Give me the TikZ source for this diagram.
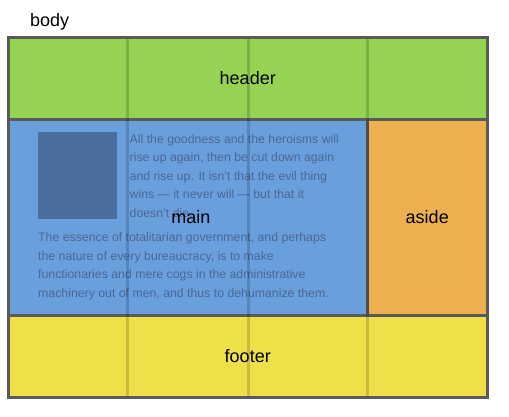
\documentclass[tikz,border=0pt]{standalone}
\usepackage{fontspec}
\setmainfont{Liberation Sans}
\definecolor{frame}{HTML}{5A5A5A}
\definecolor{hdr}{HTML}{96D353}
\definecolor{mainc}{HTML}{6A9FDD}
\definecolor{asidec}{HTML}{EDB04F}
\definecolor{foot}{HTML}{EFE04A}
\definecolor{imgc}{HTML}{4B6F9D}
\definecolor{ptext}{HTML}{4A6896}
\tikzset{
  cell/.style={draw=none, inner sep=0pt, font=\fontsize{18}{20}\selectfont, text=black},
  para/.style={anchor=base west, inner sep=0pt, font=\fontsize{12.3}{14}\selectfont, text=ptext},
  gridline/.style={fill=black, fill opacity=0.16, draw=none, inner sep=0pt}
}
\begin{document}
\begin{tikzpicture}[x=1pt,y=-1pt]
\useasboundingbox (0,0) rectangle (509,416);
% outer frame
\node[fill=frame, inner sep=0pt, minimum width=481.5pt, minimum height=363pt] (body) at (247.75,217.5) {};
\node[cell, anchor=base west] (bodylbl) at (30,26.5) {body};
% cells
\node[cell, fill=hdr, minimum width=475.5pt, minimum height=78.5pt] (header) at (247.75,78.25) {header};
\node[cell, fill=mainc, minimum width=356pt, minimum height=193.5pt] (main) at (188,217.25) {};
\node[cell, fill=asidec, minimum width=116.5pt, minimum height=193.5pt] (aside) at (427.25,217.25) {aside};
\node[cell, fill=foot, minimum width=475.5pt, minimum height=79pt] (footer) at (247.75,356.5) {footer};
% image
\node[fill=imgc, inner sep=0pt, minimum width=79pt, minimum height=87pt] (img) at (77.5,175.5) {};
% paragraph 1
\node[para] (p1a) at (129.5,143.3) {All the goodness and the heroisms will};
\node[para] (p1b) at (129.5,161.8) {rise up again, then be cut down again};
\node[para] (p1c) at (129.5,180.3) {and rise up. It isn't that the evil thing};
\node[para] (p1d) at (129.5,198.8) {wins — it never will — but that it};
\node[para] (p1e) at (129.5,217.3) {doesn't die.};
% paragraph 2
\node[para] (p2a) at (38,241.7) {The essence of totalitarian government, and perhaps};
\node[para] (p2b) at (38,260.2) {the nature of every bureaucracy, is to make};
\node[para] (p2c) at (38,278.7) {functionaries and mere cogs in the administrative};
\node[para] (p2d) at (38,297.2) {machinery out of men, and thus to dehumanize them.};
% main label
\node[cell] (mainlbl) at (191,217.5) {main};
% grid lines
\node[gridline, minimum width=3pt, minimum height=357pt] (g1) at (127.5,217.5) {};
\node[gridline, minimum width=3pt, minimum height=357pt] (g2) at (248,217.5) {};
\node[gridline, minimum width=3pt, minimum height=357pt] (g3) at (367.5,217.5) {};
\end{tikzpicture}
\end{document}
